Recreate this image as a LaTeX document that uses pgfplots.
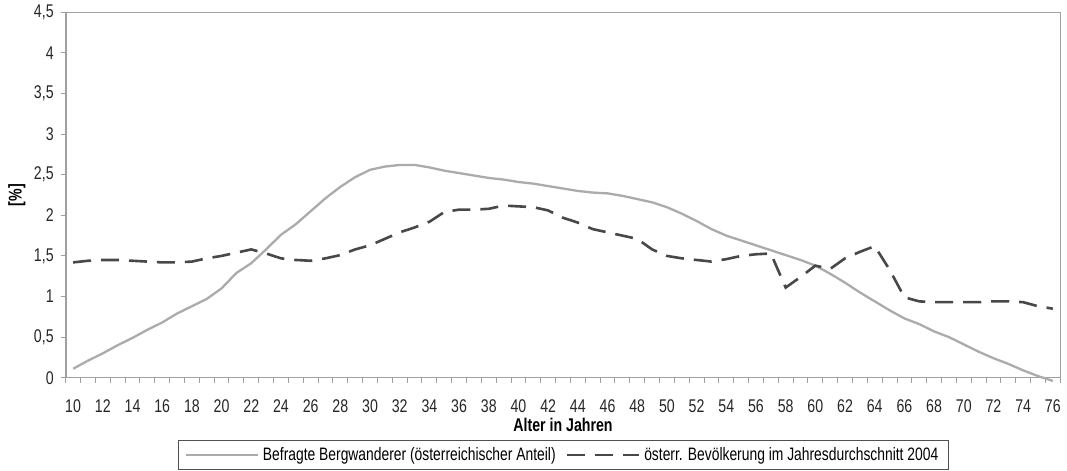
\documentclass[border=0pt]{standalone}
\usepackage{fontspec}
\setmainfont{Liberation Sans}[FakeStretch=0.77]
\usepackage{pgfplots}
\usepackage{pgfplotstable}
\pgfplotsset{compat=1.18}
\definecolor{solidgray}{HTML}{ABABAB}
\definecolor{dashgray}{HTML}{484848}
\definecolor{framegray}{HTML}{A0A0A0}
\definecolor{legendgray}{HTML}{505050}

\pgfplotstableread{
age val
10 0.11
11 0.21
12 0.30
13 0.40
14 0.49
15 0.59
16 0.68
17 0.79
18 0.88
19 0.97
20 1.10
21 1.29
22 1.41
23 1.58
24 1.76
25 1.89
26 2.05
27 2.21
28 2.35
29 2.47
30 2.56
31 2.60
32 2.62
33 2.62
34 2.59
35 2.55
36 2.52
37 2.49
38 2.46
39 2.44
40 2.41
41 2.39
42 2.36
43 2.33
44 2.30
45 2.28
46 2.27
47 2.24
48 2.20
49 2.16
50 2.10
51 2.02
52 1.93
53 1.83
54 1.75
55 1.69
56 1.63
57 1.57
58 1.51
59 1.45
60 1.38
61 1.28
62 1.17
63 1.05
64 0.94
65 0.83
66 0.73
67 0.66
68 0.57
69 0.50
70 0.41
71 0.32
72 0.24
73 0.17
74 0.09
75 0.02
76 -0.04
}\befragt

\pgfplotstableread{
age val
10 1.42
11 1.44
12 1.45
13 1.45
14 1.44
15 1.43
16 1.42
17 1.42
18 1.43
19 1.47
20 1.50
21 1.54
22 1.58
23 1.53
24 1.47
25 1.45
26 1.44
27 1.47
28 1.51
29 1.58
30 1.63
31 1.71
32 1.79
33 1.85
34 1.92
35 2.04
36 2.07
37 2.07
38 2.08
39 2.12
40 2.11
41 2.10
42 2.06
43 1.97
44 1.91
45 1.83
46 1.79
47 1.75
48 1.71
49 1.58
50 1.50
51 1.47
52 1.45
53 1.43
54 1.46
55 1.50
56 1.52
57 1.53
58 1.11
59 1.24
60 1.38
61 1.34
62 1.47
63 1.55
64 1.62
65 1.33
66 0.99
67 0.94
68 0.93
69 0.93
70 0.93
71 0.93
72 0.94
73 0.94
74 0.93
75 0.88
76 0.85
}\bevoelkerung

\begin{document}
\begin{tikzpicture}
\path[use as bounding box] (0,0) rectangle (533.5pt,235.5pt);
\begin{axis}[
  at={(32.85pt,46.65pt)}, anchor=south west,
  scale only axis, width=497.3pt, height=182.7pt,
  xmin=9.5, xmax=76.5, ymin=0, ymax=4.5,
  clip=false,
  xtick={10,12,...,76},
  minor xtick={9.5,10.5,...,76.5},
  ytick={0,0.5,...,4.5},
  xtick pos=bottom, ytick pos=left,
  tick align=outside,
  major tick length=2.5pt, minor tick length=2.5pt,
  major x tick style={draw=none},
  minor tick style={framegray, line width=0.5pt},
  major y tick style={framegray, line width=0.5pt},
  axis line style={framegray, line width=0.8pt},
  /pgf/number format/assume math mode=true,
  /pgf/number format/use comma,
  tick label style={font=\fontsize{9.2}{10}\selectfont, text=black!85},
  xticklabel style={yshift=-5pt},
  xlabel={\bfseries Alter in Jahren},
  ylabel={\bfseries [\%]},
  label style={font=\fontsize{9.2}{10}\selectfont},
  x label style={at={(axis description cs:0.5,-0.1297)}, anchor=center},
  y label style={at={(axis description cs:-0.049,0.5)}, anchor=center, rotate=0},
  legend columns=2,
  legend cell align=left,
  legend style={at={(axis description cs:0.5005,-0.2116)}, anchor=center,
    draw=legendgray, line width=0.6pt, font=\fontsize{9}{10}\selectfont,
    inner xsep=3pt, inner ysep=1.2pt,
    /tikz/every even column/.append style={column sep=3pt}},
  legend image code/.code={\draw[#1] (0pt,0pt) -- (36pt,0pt);},
]
\addplot[solidgray, line width=1.15pt] table[x=age, y=val] {\befragt};
\addlegendentry{Befragte Bergwanderer (österreichischer Anteil)}
\addplot[dashgray, line width=1.3pt, dash pattern=on 9pt off 5pt] table[x=age, y=val] {\bevoelkerung};
\addlegendentry{österr. Bevölkerung im Jahresdurchschnitt 2004}
\end{axis}
\end{tikzpicture}
\end{document}
